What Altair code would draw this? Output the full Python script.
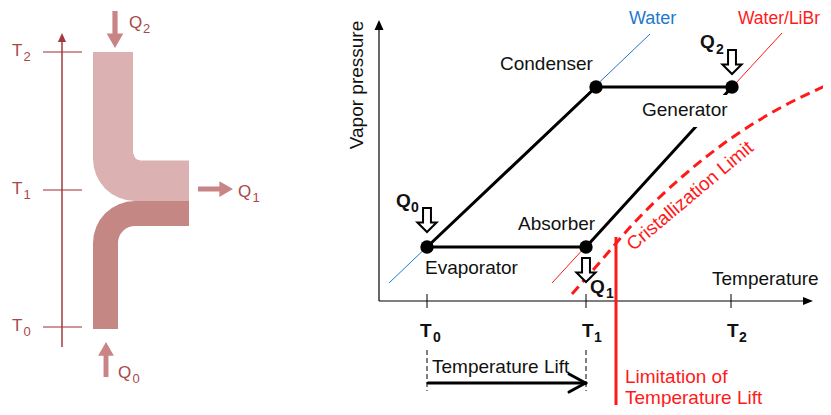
import math
import altair as alt
import pandas as pd

# ---------------- canvas (diagram units = page pixels) ----------------
X_MIN, X_MAX = 8, 823
Y_MIN, Y_MAX = 8, 407
xs = alt.Scale(domain=[X_MIN, X_MAX], nice=False, zero=False)
ys = alt.Scale(domain=[Y_MIN, Y_MAX], nice=False, zero=False, reverse=True)

FONT = "Liberation Sans"

# ---------------- colours ----------------
AX_DARK = "#a33a3a"
TICK_C = "#c27070"
LBL_C = "#a84848"
ARROW_C = "#c98585"
LIGHT = "#dbb1b1"
DARK = "#c58784"
BLUE = "#1f78cf"
RED = "#ff1a1a"

# ================= LEFT PANEL =================
left_axis = [[62, 347, 62, 40]]
left_ticks = [[43, 52, 82, 52], [43, 190, 82, 190], [43, 327, 82, 327]]
left_axis_head = [[62, 37.5]]
left_T_labels = [[12, 56, "T"], [12, 194, "T"], [12, 331, "T"]]
left_T_subs = [[23.5, 61, "2"], [23.5, 199, "1"], [23.5, 336, "0"]]

# stream bands (rect pieces + rounded corners)
light_rects = [[93, 52, 133, 160], [134, 160.5, 189, 201], [133, 154, 140, 161]]
light_corner = [[135, 159]]          # quarter disc, radius 42
light_fillet_cut = [[140, 154]]      # white disc, radius 7
dark_rects = [[93, 243, 118, 329], [135, 201, 189, 226]]
dark_corner = [[135, 243]]           # annulus 17..42

left_arrows_down = [[115, 29.5]]
left_arrows_up = [[106, 359.5]]
left_arrows_right = [[215.5, 189]]
left_Q = [[129, 28, "Q"], [118, 378, "Q"], [238, 197, "Q"]]
left_Q_subs = [[143, 33, "2"], [132.5, 383, "0"], [252.5, 202, "1"]]

# ================= RIGHT PANEL =================
axis_lines = [[379, 301, 379, 27], [379, 301, 806, 301]]
x_ticks = [[427, 294, 427, 308], [586, 294, 586, 308], [731, 294, 731, 308]]
y_head = [[379, 25]]
x_head = [[808, 301]]

water_line = [[389, 283, 650, 34]]
libr_line = [[552, 283, 782, 33]]
cycle_lines = [
    [427, 247, 596, 87],   # evaporator -> condenser
    [596, 87, 732, 87],    # condenser -> generator
    [427, 247, 586, 247],  # evaporator -> absorber
    [586, 247, 732, 87],   # absorber -> generator
]
generator_label_box = [[641, 95, 729, 127]]
state_points = [[427, 247, "Evaporator"], [586, 247, "Absorber"],
                [596, 87, "Condenser"], [732, 87, "Generator"]]

crist_x = [572, 600, 633, 683, 733, 780, 825]
crist_y = [294, 262, 224, 176, 137, 108, 86]

limit_line = [[616, 237, 616, 405]]
lift_dashes = [[427, 350, 427, 391], [586, 350, 586, 391]]
lift_arrow = [[428, 383, 584, 383], [569, 374, 586, 383.3], [569, 392, 586, 382.7]]

hollow_arrows = [[427, 220], [586, 270], [732, 62]]

labels_black = [
    [500, 70, "Condenser"], [642, 116, "Generator"], [518, 230, "Absorber"],
    [425, 274, "Evaporator"], [712, 285, "Temperature"], [432, 373, "Temperature Lift"],
]
label_water = [[629, 24, "Water"]]
label_libr = [[738, 24, "Water/LiBr"]]
labels_red = [[625, 383, "Limitation of"], [625, 404, "Temperature Lift"]]
label_crist = [[690, 196, "Cristallization Limit"]]
label_vp = [[357, 85, "Vapor pressure"]]

Q_bold = [[396, 207, "Q"], [590, 293, "Q"], [700, 48, "Q"]]
Q_bold_subs = [[411, 212, "0"], [606, 298, "1"], [716, 54, "2"]]
T_bold = [[420, 337, "T"], [582, 337, "T"], [727, 337, "T"]]
T_bold_subs = [[433, 342, "0"], [594, 342, "1"], [739, 342, "2"]]


# ---------------- helpers ----------------
def X(f="x"):
    return alt.X(f"{f}:Q", scale=xs, axis=None)


def Y(f="y"):
    return alt.Y(f"{f}:Q", scale=ys, axis=None)


def segs(rows, color, width, dash=None, cap="butt"):
    df = pd.DataFrame(rows, columns=["x", "y", "x2", "y2"])
    kw = dict(color=color, strokeWidth=width, strokeCap=cap)
    if dash:
        kw["strokeDash"] = dash
    return alt.Chart(df).mark_rule(**kw).encode(x=X(), y=Y(), x2="x2:Q", y2="y2:Q")


def rects(rows, color):
    df = pd.DataFrame(rows, columns=["x", "y", "x2", "y2"])
    return alt.Chart(df).mark_rect(color=color, strokeWidth=0).encode(
        x=X(), y=Y(), x2="x2:Q", y2="y2:Q")


def texts(rows, color, size, weight="normal", align="left", baseline="alphabetic", angle=0):
    df = pd.DataFrame(rows, columns=["x", "y", "text"])
    kw = dict(color=color, fontSize=size, fontWeight=weight, font=FONT,
              align=align, baseline=baseline)
    if angle:
        kw["angle"] = angle
    return alt.Chart(df).mark_text(**kw).encode(x=X(), y=Y(), text="text:N")


def symbols(rows, shape, size, fill, stroke=None, sw=0):
    df = pd.DataFrame(rows, columns=["x", "y"])
    kw = dict(shape=shape, size=size, fill=fill, fillOpacity=1, opacity=1,
              strokeWidth=sw)
    kw["stroke"] = stroke if stroke else fill
    return alt.Chart(df).mark_point(**kw).encode(x=X(), y=Y())


def arc(rows, color, r, r2, t1, t2):
    df = pd.DataFrame(rows, columns=["x", "y"])
    return alt.Chart(df).mark_arc(color=color, radius=r, radius2=r2, theta=t1,
                                  theta2=t2, strokeWidth=0).encode(x=X(), y=Y())


PI = math.pi
ARROW_DOWN = "M -0.14 -1 L 0.14 -1 L 0.14 0.22 L 0.45 0.22 L 0 1 L -0.45 0.22 L -0.14 0.22 Z"
ARROW_UP = "M -0.14 1 L 0.14 1 L 0.14 -0.22 L 0.45 -0.22 L 0 -1 L -0.45 -0.22 L -0.14 -0.22 Z"
ARROW_RIGHT = "M -1 -0.14 L -1 0.14 L 0.22 0.14 L 0.22 0.45 L 1 0 L 0.22 -0.45 L 0.22 -0.14 Z"
HOLLOW_DOWN = "M -0.33 -1 L 0.33 -1 L 0.33 0.2 L 0.8 0.2 L 0 1 L -0.8 0.2 L -0.33 0.2 Z"
TRI_UP = "M 0 -1 L 0.9 1 L -0.9 1 Z"
TRI_RIGHT = "M 1 0 L -1 0.8 L -1 -0.8 Z"

layers = [
    # left panel
    rects(light_rects, LIGHT),
    arc(light_corner, LIGHT, 42, 0, PI, 1.5 * PI),
    symbols(light_fillet_cut, "circle", PI * 49, "white"),
    rects(dark_rects, DARK),
    arc(dark_corner, DARK, 42, 17, 1.5 * PI, 2 * PI),
    segs(left_ticks, TICK_C, 1.5),
    segs(left_axis, AX_DARK, 1.5),
    symbols(left_axis_head, TRI_UP, 81, AX_DARK),
    symbols(left_arrows_down, ARROW_DOWN, 1369, ARROW_C),
    symbols(left_arrows_up, ARROW_UP, 1225, ARROW_C),
    symbols(left_arrows_right, ARROW_RIGHT, 1225, ARROW_C),
    texts(left_T_labels, LBL_C, 17),
    texts(left_T_subs, LBL_C, 13),
    texts(left_Q, LBL_C, 17),
    texts(left_Q_subs, LBL_C, 13),
    # right panel
    segs(axis_lines, "black", 1.2),
    segs(x_ticks, "black", 1),
    symbols(y_head, TRI_UP, 100, "black"),
    symbols(x_head, TRI_RIGHT, 100, "black"),
    segs(water_line, BLUE, 1),
    segs(libr_line, RED, 1),
    alt.Chart(pd.DataFrame({"x": crist_x, "y": crist_y})).mark_line(
        color=RED, strokeWidth=3, strokeDash=[10, 6], interpolate="monotone"
    ).encode(x=X(), y=Y()),
    segs(cycle_lines, "black", 3, cap="round"),
    rects(generator_label_box, "white"),
    alt.Chart(pd.DataFrame(state_points, columns=["x", "y", "name"])).mark_circle(
        color="black", size=180, opacity=1).encode(x=X(), y=Y()),
    segs(limit_line, RED, 3),
    segs(lift_dashes, "black", 1, dash=[5, 3]),
    segs(lift_arrow, "black", 3, cap="round"),
    symbols(hollow_arrows, HOLLOW_DOWN, 576, "white", "black", 2),
    texts(labels_black, "#111111", 19),
    texts(label_water, BLUE, 18),
    texts(label_libr, RED, 17.5),
    texts(labels_red, RED, 19),
    texts(label_crist, RED, 19, align="center", baseline="middle", angle=320),
    texts(label_vp, "#111111", 19, align="center", baseline="middle", angle=270),
    texts(Q_bold, "#111111", 19, weight="bold"),
    texts(Q_bold_subs, "#111111", 14, weight="bold"),
    texts(T_bold, "#111111", 19, weight="bold"),
    texts(T_bold_subs, "#111111", 14, weight="bold"),
]

chart = alt.layer(*layers).properties(
    width=X_MAX - X_MIN, height=Y_MAX - Y_MIN, padding=0,
    autosize=alt.AutoSizeParams(type="none"),
).configure_view(stroke=None)

chart.save("out.html", embed_options={"renderer": "svg", "actions": False})
